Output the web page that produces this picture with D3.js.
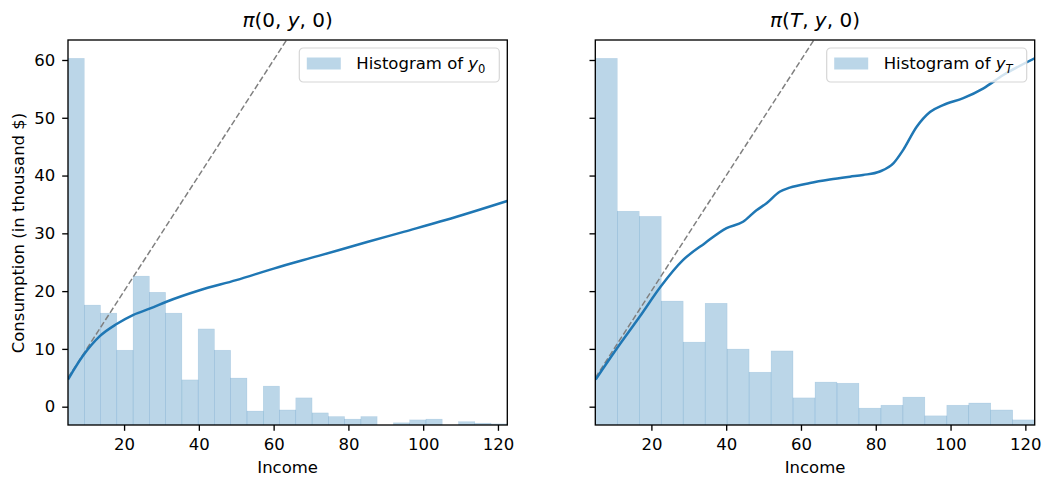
<!DOCTYPE html>
<html>
<head>
<meta charset="utf-8">
<script src="https://cdn.jsdelivr.net/npm/d3@7"></script>
<style>
  body { margin: 0; background: #fff; }
  svg text { font-family: 'DejaVu Sans', sans-serif; fill: #000; }
</style>
</head>
<body>
<script>
// ===================================================================

const INCOME_RANGE = [5, 122.5]
const CONSUMPTION_RANGE = [-3.17, 63.46]

const X_TICKS = [20, 40, 60, 80, 100, 120]
const Y_TICKS = [0, 10, 20, 30, 40, 50, 60]

// histogram heights, relative to the tallest bin (= 100)
const hist0 = [100, 32.7, 30.5, 20.4, 40.6, 36.2, 30.5, 12.3, 26.2, 20.4, 12.8, 3.8, 10.6, 4.1,
  7.4, 3.3, 2.3, 1.6, 2.3, 0, 0.6, 1.4, 1.6, 0, 0.9, 0.5, 0.3]
const histT = [100, 58.3, 56.9, 33.8, 22.6, 33.2, 20.7, 14.4, 20.2, 7.4, 11.7, 11.4, 4.6, 5.4,
  7.6, 2.5, 5.4, 6.0, 4.1, 1.4]

// consumption policy at t = 0
const policy0X = [5, 9, 13.5, 18, 22.5, 27, 31.5, 40, 50, 60, 72, 85, 95, 106, 122.5]
const policy0Y = [4.7, 8.8, 12.2, 14.3, 15.9, 17.0, 18.2, 20.1, 21.9, 23.9, 26.1, 28.5, 30.3, 32.3, 35.6]

// consumption policy at t = T
const policyTX = [5.1, 10.8, 16.9, 22.5, 28.5, 34.3, 40.1, 44.5, 48.1, 50.8, 54.3, 57, 62.4, 67.7,
  73.1, 76.6, 81.1, 84.7, 87.3, 90.9, 94.5, 98, 103.4, 108.8, 114.1, 122.5]
const policyTY = [4.7, 10.1, 15.6, 20.8, 25.4, 28.3, 30.9, 32.0, 34.0, 35.2, 37.2, 37.9, 38.7, 39.3,
  39.8, 40.1, 40.7, 42.1, 44.4, 48.4, 51.0, 52.2, 53.4, 55.1, 57.4, 60.3]

// 45 degree line c = y
const diagonal = [5, 122.5]

// ===================================================================

const WIDTH = 1045
const HEIGHT = 481

const TOP = 40
const BOTTOM = 425

const BLUE = '#1f77b4'
const FONT_SIZE = 16.5
const TITLE_SIZE = 20

const PANELS = [
  {
    left: 68,
    right: 507.3,
    hist: hist0,
    xs: policy0X,
    ys: policy0Y,
    title: [['π', true], ['(0, ', false], ['y', true], [', 0)', false]],
    sub: ['0', false],
    yLabels: true
  },
  {
    left: 595.3,
    right: 1034.7,
    hist: histT,
    xs: policyTX,
    ys: policyTY,
    title: [['π', true], ['(', false], ['T', true], [', ', false], ['y', true], [', 0)', false]],
    sub: ['T', true],
    yLabels: false
  }
]

// ===================================================================

const svg = d3.select('body')
  .append('svg')
    .attr('width', WIDTH)
    .attr('height', HEIGHT)

const styleAxis = g => {
  g.select('.domain').remove()
  g.selectAll('.tick line')
    .attr('stroke', '#000')
    .attr('stroke-width', 1.33)
  g.selectAll('.tick text')
    .attr('font-size', FONT_SIZE)
    .attr('font-family', 'DejaVu Sans')
    .attr('fill', '#000')
}

PANELS.forEach((panel, idx) => {
  const x = d3.scaleLinear()
    .domain(INCOME_RANGE)
    .range([panel.left, panel.right])
  const y = d3.scaleLinear()
    .domain(CONSUMPTION_RANGE)
    .range([BOTTOM, TOP])
  const yHist = d3.scaleLinear()
    .domain([0, d3.max(panel.hist) * 1.05])
    .range([BOTTOM, TOP])

  const clipId = `clip-${idx}`
  svg.append('clipPath')
    .attr('id', clipId)
    .append('rect')
      .attr('x', panel.left)
      .attr('y', TOP)
      .attr('width', panel.right - panel.left)
      .attr('height', BOTTOM - TOP)

  const plot = svg.append('g')
    .attr('clip-path', `url(#${clipId})`)

  // histogram, bins spread evenly over the income range
  const n = panel.hist.length
  const step = (INCOME_RANGE[1] - INCOME_RANGE[0]) / n
  plot.append('g')
    .selectAll('rect')
    .data(panel.hist)
    .join('rect')
      .attr('x', (d, i) => x(INCOME_RANGE[0] + i * step))
      .attr('width', x(INCOME_RANGE[0] + step) - x(INCOME_RANGE[0]))
      .attr('y', d => yHist(d))
      .attr('height', d => yHist(0) - yHist(d))
      .attr('fill', BLUE)
      .attr('fill-opacity', 0.3)
      .attr('stroke', BLUE)
      .attr('stroke-opacity', 0.18)
      .attr('stroke-width', 0.5)

  plot.append('path')
    .datum(diagonal)
    .attr('d', d3.line().x(d => x(d)).y(d => y(d)))
    .attr('fill', 'none')
    .attr('stroke', '#808080')
    .attr('stroke-width', 1.5)
    .attr('stroke-dasharray', '6,2.6')

  const line = d3.line()
    .x(i => x(panel.xs[i]))
    .y(i => y(panel.ys[i]))
    .curve(d3.curveMonotoneX)

  plot.append('path')
    .datum(d3.range(panel.xs.length))
    .attr('d', line)
    .attr('fill', 'none')
    .attr('stroke', BLUE)
    .attr('stroke-width', 2.5)

  // axes
  svg.append('g')
    .attr('transform', `translate(0, ${BOTTOM})`)
    .call(d3.axisBottom(x).tickValues(X_TICKS).tickSize(5.8).tickPadding(7).tickSizeOuter(0))
    .call(styleAxis)

  const yAxis = d3.axisLeft(y).tickValues(Y_TICKS).tickSize(5.8).tickPadding(7).tickSizeOuter(0)
  if (!panel.yLabels) yAxis.tickFormat('')
  svg.append('g')
    .attr('transform', `translate(${panel.left}, 0)`)
    .call(yAxis)
    .call(styleAxis)

  svg.append('rect')
    .attr('x', panel.left)
    .attr('y', TOP)
    .attr('width', panel.right - panel.left)
    .attr('height', BOTTOM - TOP)
    .attr('fill', 'none')
    .attr('stroke', '#000')
    .attr('stroke-width', 1.33)

  const cx = (panel.left + panel.right) / 2

  // title
  const title = svg.append('text')
    .attr('x', cx)
    .attr('y', 27)
    .attr('text-anchor', 'middle')
    .attr('font-size', TITLE_SIZE)
  panel.title.forEach(([t, italic]) => {
    title.append('tspan')
      .attr('font-style', italic ? 'italic' : 'normal')
      .text(t)
  })

  svg.append('text')
    .attr('x', cx)
    .attr('y', 473)
    .attr('text-anchor', 'middle')
    .attr('font-size', FONT_SIZE)
    .text('Income')

  // legend
  const lg = svg.append('g')
    .attr('transform', `translate(${panel.right - 208}, 48)`)
  lg.append('rect')
    .attr('width', 200)
    .attr('height', 34)
    .attr('rx', 4)
    .attr('fill', '#fff')
    .attr('fill-opacity', 0.8)
    .attr('stroke', '#d6d6d6')
    .attr('stroke-width', 1.2)
  lg.append('rect')
    .attr('x', 7.5)
    .attr('y', 9.5)
    .attr('width', 34)
    .attr('height', 12)
    .attr('fill', BLUE)
    .attr('fill-opacity', 0.3)
  const lt = lg.append('text')
    .attr('x', 57)
    .attr('y', 21)
    .attr('font-size', FONT_SIZE)
  lt.append('tspan').text('Histogram of ')
  lt.append('tspan').attr('font-style', 'italic').text('y')
  lt.append('tspan')
    .attr('font-size', FONT_SIZE * 0.7)
    .attr('dy', 3.5)
    .attr('font-style', panel.sub[1] ? 'italic' : 'normal')
    .text(panel.sub[0])
})

svg.append('text')
  .attr('transform', 'translate(24, 233) rotate(-90)')
  .attr('text-anchor', 'middle')
  .attr('font-size', FONT_SIZE)
  .text('Consumption (in thousand $)')
</script>
</body>
</html>
